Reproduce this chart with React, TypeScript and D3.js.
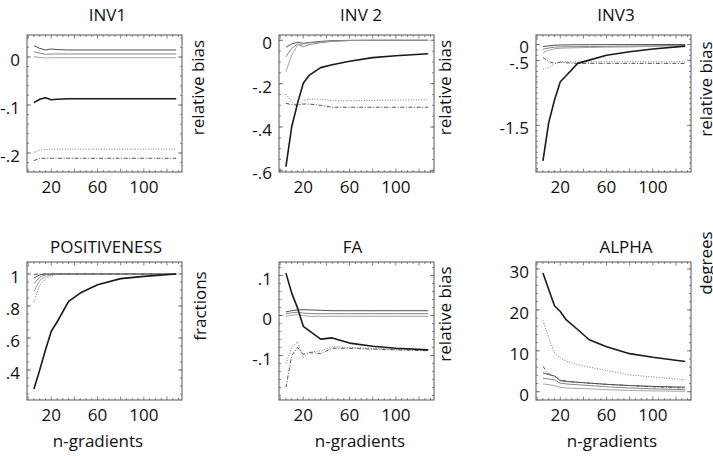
import React from "react";
import * as d3 from "d3";

// number of gradients (x for every series)
const nGradients = [5, 10, 15, 20, 25, 35, 45, 60, 80, 100, 128];
const xTicks = [20, 60, 100];

// INV1
const inv1Thin1 = [0.0235, 0.018, 0.0146, 0.0167, 0.0155, 0.0146, 0.0146, 0.0146, 0.0146, 0.0146, 0.0146];
const inv1Thin2 = [0.011, 0.008, 0.0056, 0.006, 0.0063, 0.0063, 0.0063, 0.0063, 0.0063, 0.0063, 0.0063];
const inv1Thin3 = [0.0006, -0.001, -0.002, -0.0015, -0.0015, -0.0015, -0.0015, -0.0015, -0.0015, -0.0015, -0.0015];
const inv1Thick = [-0.095, -0.088, -0.085, -0.089, -0.088, -0.087, -0.087, -0.087, -0.087, -0.087, -0.087];
const inv1Dotted = [-0.1985, -0.194, -0.193, -0.192, -0.192, -0.192, -0.192, -0.192, -0.192, -0.192, -0.192];
const inv1DashDot = [-0.216, -0.211, -0.211, -0.211, -0.211, -0.211, -0.211, -0.211, -0.211, -0.211, -0.211];
const inv1Ticks = [0, -0.1, -0.2];
const inv1TickLabels = ["0", "-.1", "-.2"];

// INV 2
const inv2Thin1 = [-0.032, -0.017, -0.009, -0.014, -0.01, -0.005, -0.002, 0, 0, 0, 0];
const inv2Thin2 = [-0.076, -0.037, -0.017, -0.03, -0.02, -0.011, -0.005, -0.001, 0, 0, 0];
const inv2Thin3 = [-0.145, -0.068, -0.022, -0.017, -0.012, -0.008, -0.004, -0.001, 0, 0, 0];
const inv2Thick = [-0.583, -0.399, -0.291, -0.198, -0.162, -0.126, -0.113, -0.097, -0.08, -0.071, -0.062];
const inv2Dotted = [-0.248, -0.283, -0.303, -0.276, -0.272, -0.271, -0.279, -0.279, -0.277, -0.276, -0.274];
const inv2DashDot = [-0.291, -0.297, -0.299, -0.294, -0.294, -0.3, -0.309, -0.309, -0.309, -0.309, -0.309];
const inv2Ticks = [0, -0.2, -0.4, -0.6];
const inv2TickLabels = ["0", "-.2", "-.4", "-.6"];

// INV3
const inv3Thin1 = [-0.04, -0.025, -0.015, -0.01, -0.008, -0.005, -0.004, -0.003, -0.002, -0.001, 0];
const inv3Thin2 = [-0.09, -0.065, -0.05, -0.045, -0.042, -0.04, -0.038, -0.035, -0.03, -0.025, -0.015];
const inv3Thin3 = [-0.15, -0.11, -0.08, -0.07, -0.065, -0.06, -0.055, -0.05, -0.045, -0.035, -0.02];
const inv3Thick = [-2.16, -1.45, -1.03, -0.69, -0.58, -0.35, -0.29, -0.2, -0.135, -0.085, -0.03];
const inv3Dotted = [-0.46, -0.42, -0.36, -0.32, -0.32, -0.32, -0.32, -0.32, -0.32, -0.32, -0.32];
const inv3DashDot = [-0.24, -0.32, -0.35, -0.33, -0.34, -0.35, -0.35, -0.35, -0.35, -0.35, -0.35];
const inv3Ticks = [0, -0.293, -1.5];
const inv3TickLabels = ["0", "-.5", "-1.5"];

// POSITIVENESS
const posThin1 = [0.975, 0.995, 1, 1, 1, 1, 1, 1, 1, 1, 1];
const posThin2 = [0.94, 0.98, 0.995, 1, 1, 1, 1, 1, 1, 1, 1];
const posThin3 = [0.89, 0.96, 0.985, 0.995, 1, 1, 1, 1, 1, 1, 1];
const posThick = [0.281, 0.4, 0.527, 0.642, 0.7, 0.829, 0.881, 0.933, 0.971, 0.985, 1.0];
const posDotted = [0.825, 0.93, 0.97, 0.99, 0.997, 1, 1, 1, 1, 1, 1];
const posDashDot = [0.998, 1, 1, 1, 1, 1, 1, 1, 1, 1, 1];
const posTicks = [1, 0.8, 0.6, 0.4];
const posTickLabels = ["1", ".8", ".6", ".4"];

// FA
const faThin1 = [0.009, 0.012, 0.014, 0.0145, 0.014, 0.013, 0.012, 0.012, 0.012, 0.012, 0.012];
const faThin2 = [0.004, 0.007, 0.008, 0.006, 0.005, 0.0045, 0.0045, 0.0045, 0.0045, 0.0045, 0.0045];
const faThin3 = [-0.002, 0.001, 0.002, 0, -0.002, -0.002, -0.002, -0.002, -0.002, -0.002, -0.002];
const faThick = [0.106, 0.056, 0.019, -0.027, -0.038, -0.059, -0.056, -0.069, -0.077, -0.082, -0.086];
const faDotted = [-0.12, -0.078, -0.066, -0.105, -0.092, -0.088, -0.078, -0.08, -0.082, -0.085, -0.087];
const faDashDot = [-0.18, -0.1, -0.08, -0.097, -0.093, -0.095, -0.082, -0.082, -0.084, -0.086, -0.088];
const faTicks = [0.1, 0, -0.1];
const faTickLabels = [".1", "0", "-.1"];

// ALPHA
const alphaThin1 = [4.6, 4.2, 3.8, 2.7, 2.5, 2.3, 2.1, 1.8, 1.5, 1.3, 1.1];
const alphaThin2 = [3.3, 3.1, 2.9, 2.1, 1.9, 1.7, 1.5, 1.2, 0.9, 0.7, 0.5];
const alphaThin3 = [1.9, 1.7, 1.5, 1.1, 0.9, 0.8, 0.7, 0.5, 0.3, 0.2, 0.1];
const alphaThick = [29, 25, 21, 19.6, 17.6, 15.2, 12.7, 11, 9.3, 8.4, 7.4];
const alphaDotted = [17.4, 13.1, 9.5, 8.2, 7.5, 6.6, 6.0, 5.2, 4.1, 3.6, 2.9];
const alphaDashDot = [6.2, 4.3, 3.8, 2.9, 2.6, 2.3, 2.1, 1.8, 1.5, 1.2, 0.9];
const alphaTicks = [30, 20, 10, 0];
const alphaTickLabels = ["30", "20", "10", "0"];

const FONT = "'Open Sans', 'DejaVu Sans', sans-serif";
const FS = 17;

const lineStyles: Record<string, { stroke: string; width: number; dash?: string }> = {
  thin1: { stroke: "#3a3a3a", width: 0.9 },
  thin2: { stroke: "#777", width: 0.9 },
  thin3: { stroke: "#999", width: 0.9 },
  dotted: { stroke: "#777", width: 1, dash: "1 1.6" },
  dashdot: { stroke: "#555", width: 1, dash: "4 1.6 1 1.6" },
  thick: { stroke: "#1a1a1a", width: 1.6 },
};

const colLeft = [27, 279, 536];
const rowTop = [35, 262];
const rowBottom = [172, 400];
const panelW = 155;

const panels = [
  {
    title: "INV1", side: "relative bias", col: 0, row: 0,
    yDomain: [-0.2396, 0.0458], ticks: inv1Ticks, labels: inv1TickLabels, minor: 0.02,
    titleX: 107.5, sideX: 197.5, sideY: 87.5,
    series: { thin1: inv1Thin1, thin2: inv1Thin2, thin3: inv1Thin3, dotted: inv1Dotted, dashdot: inv1DashDot, thick: inv1Thick },
  },
  {
    title: "INV 2", side: "relative bias", col: 1, row: 0,
    yDomain: [-0.6078, 0.0245], ticks: inv2Ticks, labels: inv2TickLabels, minor: 0.05,
    titleX: 361, sideX: 445, sideY: 87.5,
    series: { thin1: inv2Thin1, thin2: inv2Thin2, thin3: inv2Thin3, dotted: inv2Dotted, dashdot: inv2DashDot, thick: inv2Thick },
  },
  {
    title: "INV3", side: "relative bias", col: 2, row: 0,
    yDomain: [-2.365, 0.176], ticks: inv3Ticks, labels: inv3TickLabels, minor: 0.1,
    titleX: 616, sideX: 706, sideY: 89,
    series: { thin1: inv3Thin1, thin2: inv3Thin2, thin3: inv3Thin3, dotted: inv3Dotted, dashdot: inv3DashDot, thick: inv3Thick },
  },
  {
    title: "POSITIVENESS", side: "fractions", col: 0, row: 1,
    yDomain: [0.2125, 1.075], ticks: posTicks, labels: posTickLabels, minor: 0.05,
    titleX: 106, sideX: 200, sideY: 306,
    series: { thin1: posThin1, thin2: posThin2, thin3: posThin3, dotted: posDotted, dashdot: posDashDot, thick: posThick },
  },
  {
    title: "FA", side: "relative bias", col: 1, row: 1,
    yDomain: [-0.2113, 0.1338], ticks: faTicks, labels: faTickLabels, minor: 0.02,
    titleX: 352.5, sideX: 445, sideY: 314,
    series: { thin1: faThin1, thin2: faThin2, thin3: faThin3, dotted: faDotted, dashdot: faDashDot, thick: faThick },
  },
  {
    title: "ALPHA", side: "degrees", col: 2, row: 1,
    yDomain: [-2.03, 31.7], ticks: alphaTicks, labels: alphaTickLabels, minor: 2,
    titleX: 626, sideX: 706, sideY: 263,
    series: { thin1: alphaThin1, thin2: alphaThin2, thin3: alphaThin3, dotted: alphaDotted, dashdot: alphaDashDot, thick: alphaThick },
  },
];

const xLabelCenters = [98, 360, 612];

function Panel({ p }: { p: (typeof panels)[number] }) {
  const left = colLeft[p.col];
  const right = left + panelW;
  const top = rowTop[p.row];
  const bottom = rowBottom[p.row];

  const x = d3.scaleLinear().domain([-1, 133]).range([left, right]);
  const y = d3.scaleLinear().domain(p.yDomain).range([bottom, top]);

  const line = d3
    .line<number>()
    .x((_, i) => x(nGradients[i]))
    .y((d) => y(d));

  const xMinor = d3.range(0, 131, 5);
  const [lo, hi] = p.yDomain;
  const yMinor = d3.range(Math.ceil(lo / p.minor) * p.minor, hi, p.minor);
  const tickColor = "#666";

  return (
    <g>
      {Object.entries(p.series).map(([kind, values]) => {
        const s = lineStyles[kind];
        return (
          <path
            key={kind}
            d={line(values) || ""}
            fill="none"
            stroke={s.stroke}
            strokeWidth={s.width}
            strokeDasharray={s.dash}
            strokeLinejoin="round"
          />
        );
      })}

      {/* frame with inner ticks */}
      <rect x={left} y={top} width={panelW} height={bottom - top} fill="none" stroke="#555" strokeWidth={1} />
      {xMinor.map((t) => {
        const len = t % 20 === 0 ? 3.5 : 2;
        return (
          <g key={"xt" + t} stroke={tickColor} strokeWidth={0.8}>
            <line x1={x(t)} x2={x(t)} y1={bottom} y2={bottom - len} />
            <line x1={x(t)} x2={x(t)} y1={top} y2={top + len} />
          </g>
        );
      })}
      {yMinor.map((t, i) => (
        <g key={"yt" + i} stroke={tickColor} strokeWidth={0.8}>
          <line x1={left} x2={left + 2} y1={y(t)} y2={y(t)} />
          <line x1={right} x2={right - 2} y1={y(t)} y2={y(t)} />
        </g>
      ))}
      {p.ticks.map((t, i) => (
        <g key={"ym" + i}>
          <line x1={left} x2={left + 4} y1={y(t)} y2={y(t)} stroke={tickColor} strokeWidth={0.8} />
          <line x1={right} x2={right - 4} y1={y(t)} y2={y(t)} stroke={tickColor} strokeWidth={0.8} />
          <text x={left - 7} y={y(t)} dy="0.53em" textAnchor="end" fontSize={FS} fontFamily={FONT} fill="#111">
            {p.labels[i]}
          </text>
        </g>
      ))}
      {xTicks.map((t) => (
        <text key={"xl" + t} x={x(t)} y={bottom + 21} textAnchor="middle" fontSize={FS} fontFamily={FONT} fill="#111">
          {t}
        </text>
      ))}

      <text x={p.titleX} y={p.row === 0 ? 21 : 253} textAnchor="middle" fontSize={FS} fontFamily={FONT} fill="#111">
        {p.title}
      </text>
      <text
        transform={`translate(${p.sideX},${p.sideY}) rotate(-90)`}
        dy="0.365em"
        textAnchor="middle"
        fontSize={FS}
        fontFamily={FONT}
        fill="#111"
      >
        {p.side}
      </text>
      {p.row === 1 && (
        <text x={xLabelCenters[p.col]} y={447} textAnchor="middle" fontSize={FS} fontFamily={FONT} fill="#111">
          n-gradients
        </text>
      )}
    </g>
  );
}

export default function App() {
  return (
    <svg
      width={713}
      height={456}
      style={{ position: "absolute", left: 0, top: 0, background: "#fff" }}
    >
      <rect width={713} height={456} fill="#fff" />
      {panels.map((p) => (
        <Panel key={p.title} p={p} />
      ))}
    </svg>
  );
}
